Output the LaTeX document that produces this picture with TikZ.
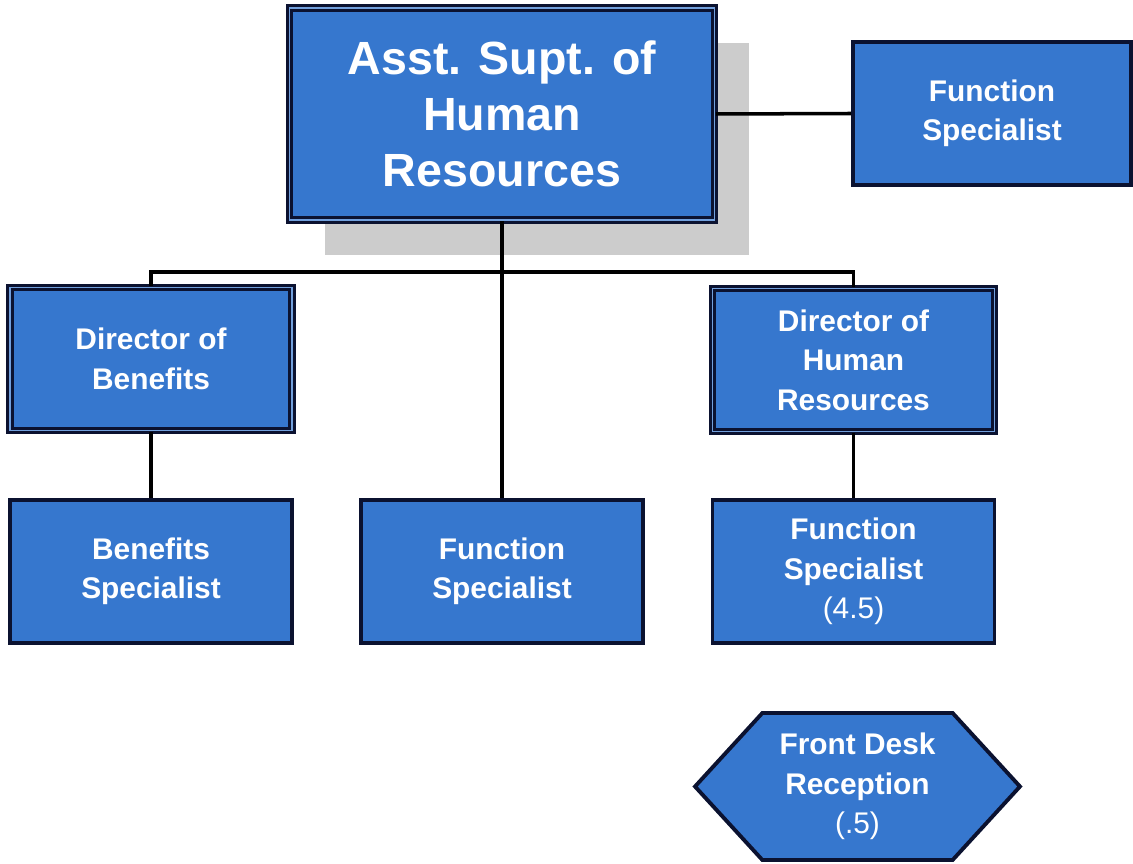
\documentclass[tikz,border=0pt]{standalone}
\usepackage{fontspec}
\setmainfont{Liberation Sans}
\usetikzlibrary{positioning,shapes.symbols,shadows}

\definecolor{boxblue}{HTML}{3677CE}
\definecolor{edgeblue}{HTML}{0B1230}
\definecolor{shadowgray}{HTML}{CCCCCC}

\tikzset{
    unit/.style={draw=edgeblue, line width=2.2pt, fill=boxblue, text=white,
        align=center, font=\bfseries\fontsize{17}{22.5}\selectfont,
        minimum width=5.64cm, minimum height=2.86cm, inner sep=0pt},
    headunit/.style={unit, double=boxblue!70!white, double distance=1pt, line width=1.6pt},
    link/.style={draw=black, line width=2pt}
}

\begin{document}
\begin{tikzpicture}[x=0.02cm, y=-0.02cm]
    \useasboundingbox[fill=white] (0,0) rectangle (1133,864);

    % top of the chart
    \node[headunit, minimum width=8.5cm, minimum height=4.24cm,
          font=\bfseries\fontsize{26.5}{32}\selectfont,
          drop shadow={shadow xshift=0.7cm, shadow yshift=-0.7cm, fill=shadowgray, opacity=1}]
        (asst) at (502,114) {Asst. Supt. of\\Human\\Resources};
    \node[unit, minimum width=5.56cm] (staff) at (992,113.5) {Function\\Specialist};

    % directors
    \node[headunit] (dirben) at (151,359) {Director of\\Benefits};
    \node[headunit] (dirhr) at (853.5,360) {Director of\\Human\\Resources};

    % specialists
    \node[unit] (benspec) at (151,571.5) {Benefits\\Specialist};
    \node[unit] (funcspec) at (502,571.5) {Function\\Specialist};
    \node[unit] (hrspec) at (853.5,571.5) {Function\\Specialist\\{\mdseries(4.5)}};

    % reception
    \node[unit, signal, signal to=west and east, signal pointer angle=95,
          minimum width=6.5cm, minimum height=2.94cm] (desk) at (857.5,786.5)
        {Front Desk\\Reception\\{\mdseries(.5)}};

    % connectors
    \coordinate (bus) at (502,272);
    \draw[link] (asst.east) -- (staff.west);
    \draw[link] (asst.south) -- (funcspec.north);
    \draw[link] (dirben.north) |- (bus) -| (dirhr.north);
    \draw[link] (dirben.south) -- (benspec.north);
    \draw[link] (dirhr.south) -- (hrspec.north);
\end{tikzpicture}
\end{document}
